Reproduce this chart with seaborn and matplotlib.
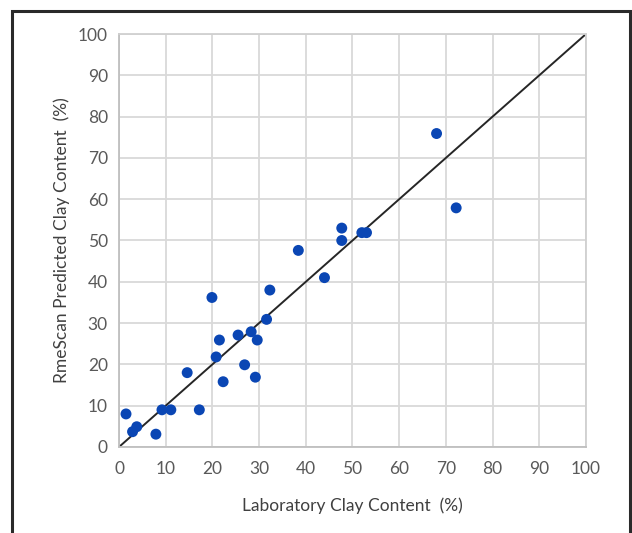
import matplotlib
matplotlib.use("Agg")
import matplotlib.pyplot as plt
import numpy as np
import pandas as pd
import seaborn as sns
from matplotlib.patches import Rectangle

# laboratory vs predicted clay content (%)
lab_clay = [1.5, 2.9, 3.8, 7.9, 9.2, 11.1, 17.2, 14.6, 19.9, 21.5, 20.8, 22.3,
            25.5, 28.3, 29.6, 26.9, 29.2, 31.6, 32.3, 38.4, 44.0, 47.7, 47.7,
            52.0, 53.0, 68.0, 72.2]
pred_clay = [8.0, 3.7, 4.9, 3.1, 9.0, 9.0, 9.0, 18.0, 36.2, 25.9, 21.8, 15.8,
             27.1, 27.9, 25.9, 19.9, 16.9, 30.9, 38.0, 47.6, 41.0, 53.0, 50.0,
             51.9, 51.9, 75.9, 57.9]
ticks = list(range(0, 101, 10))

df = pd.DataFrame({"lab": lab_clay, "pred": pred_clay})

sns.set_theme(style="white")
plt.rcParams["font.family"] = ["Lato", "DejaVu Sans"]

fig = plt.figure(figsize=(6.32, 5.33), dpi=100)
ax = fig.add_axes([0.1883, 0.1614, 0.7389, 0.7748])

sns.scatterplot(data=df, x="lab", y="pred", ax=ax, color="#0a46b4",
                s=62, edgecolor="none", zorder=3)
ax.plot([0, 100], [0, 100], color="#262626", lw=1.4, zorder=2)

ax.set_xlim(0, 100)
ax.set_ylim(0, 100)
ax.set_xticks(ticks)
ax.set_yticks(ticks)
ax.grid(True, color="#d9d9d9", lw=1.3, zorder=0)
for sp in ax.spines.values():
    sp.set_color("#d0d0d0")
    sp.set_linewidth(1.3)
ax.spines["left"].set_color("#bfbfbf")
ax.spines["bottom"].set_color("#bfbfbf")
ax.tick_params(axis="both", length=0, labelsize=12.5, labelcolor="#595959")
ax.tick_params(axis="x", pad=10)
ax.tick_params(axis="y", pad=8)
ax.set_xlabel("Laboratory Clay Content  (%)", fontsize=12.5, color="#404040", labelpad=15)
ax.set_ylabel("RmeScan Predicted Clay Content  (%)", fontsize=12.5, color="#404040", labelpad=6)

# outer frame of the picture
fig.patches.append(Rectangle((12 / 632, -0.05), (630 - 12) / 632, 1 - 11 / 533 + 0.05,
                             transform=fig.transFigure, fill=False,
                             edgecolor="#2a2a2a", lw=2.2))

fig.savefig("out.png", dpi=100)
